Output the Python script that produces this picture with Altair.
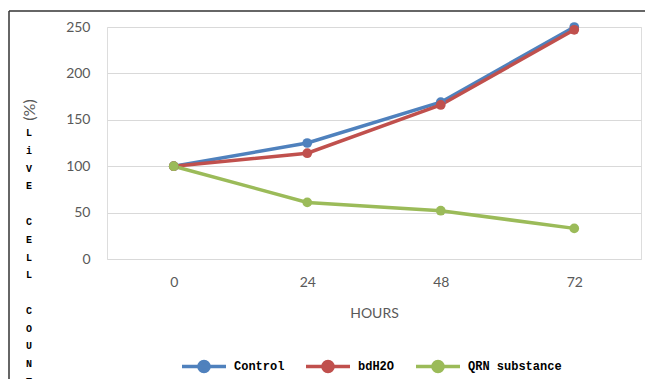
import altair as alt
import pandas as pd

hours = ["0", "24", "48", "72"]
series_names = ["Control", "bdH2O", "QRN substance"]
control = [100, 125, 169, 250]
bdh2o = [100, 114, 166, 247]
qrn = [100, 61, 52, 33]
colors = ["#4F81BD", "#C0504D", "#9BBB59"]
# vertical y-axis title, one letter per line ("" = empty line)
y_letters = ["L", "i", "V", "E", "", "C", "E", "L", "L", "", "C", "O", "U", "N", "T"]

rows = []
for i, (name, vals) in enumerate(zip(series_names, [control, bdh2o, qrn])):
    for h, v in zip(hours, vals):
        rows.append({"hours": h, "value": v, "series": name, "series_order": i})
df = pd.DataFrame(rows)

letters_df = pd.DataFrame([{"slot": i, "ch": c} for i, c in enumerate(y_letters) if c])

color_scale = alt.Scale(domain=series_names, range=colors)
legend_path = "M-1,0L1,0M-0.23,0A0.23,0.23 0 1,1 0.23,0A0.23,0.23 0 1,1 -0.23,0Z"
legend_spec = alt.Legend(title=None, orient="none", direction="horizontal",
                         legendX=73, legendY=315,
                         symbolType=legend_path, symbolSize=1936, symbolStrokeWidth=3.5,
                         labelFont="Liberation Mono", labelFontSize=12, labelFontWeight="bold",
                         labelColor="#000000", labelOffset=6, columnPadding=14)

base = alt.Chart(df).encode(
    x=alt.X("hours:O", sort=hours, scale=alt.Scale(type="point", padding=0.5),
            axis=alt.Axis(title="HOURS", labelAngle=0, ticks=False, domain=False, grid=False,
                          labelFont="Lato", labelFontSize=14, labelColor="#595959", labelPadding=16,
                          titleFont="Lato", titleFontSize=14, titleFontWeight="normal",
                          titleColor="#595959", titlePadding=17)),
    y=alt.Y("value:Q", scale=alt.Scale(domain=[0, 250], nice=False, zero=True),
            axis=alt.Axis(values=[0, 50, 100, 150, 200, 250], ticks=False, domain=False,
                          gridColor="#D9D9D9", gridWidth=1, title=None,
                          labelFont="Lato", labelFontSize=14, labelColor="#595959", labelPadding=17)),
    order=alt.Order("series_order:Q"),
)

lines = base.mark_line(strokeWidth=3.5).encode(
    stroke=alt.Stroke("series:N", scale=color_scale, sort=series_names, legend=legend_spec))
points = base.mark_point(filled=True, size=95, opacity=1, strokeWidth=0).encode(
    fill=alt.Fill("series:N", scale=color_scale, sort=series_names, legend=legend_spec),
    stroke=alt.Stroke("series:N", scale=color_scale, sort=series_names, legend=legend_spec))

plot = alt.layer(lines, points)

letters = alt.Chart(letters_df).mark_text(
    font="Liberation Mono", fontSize=10, fontWeight="bold", color="#000000", baseline="middle"
).encode(
    text="ch:N",
    x=alt.value(-78),
    y=alt.Y("slot:Q", scale=alt.Scale(domain=[0, 14], range=[106, 355]), axis=None),
)

pct = alt.Chart(alt.Data(values=[{"t": "(%)"}])).mark_text(
    font="Lato", fontSize=16, color="#595959", angle=270
).encode(text="t:N", x=alt.value(-77), y=alt.value(83))

top_rule = alt.Chart(alt.Data(values=[{"a": 1}])).mark_rule(color="#333333", strokeWidth=1.5).encode(
    x=alt.value(-98), x2=alt.value(560), y=alt.value(-16))
left_rule = alt.Chart(alt.Data(values=[{"a": 1}])).mark_rule(color="#333333", strokeWidth=1.5).encode(
    x=alt.value(-98), y=alt.value(-16), y2=alt.value(400))

chart = alt.layer(plot, letters, pct, top_rule, left_rule).resolve_scale(y="independent").properties(
    width=534, height=232,
    autosize=alt.AutoSizeParams(type="none"),
    padding={"left": 99, "top": 19, "right": 4, "bottom": 120},
).configure_view(stroke=None).configure(background="white")

chart.save("out.html", embed_options={"renderer": "svg", "actions": False})
